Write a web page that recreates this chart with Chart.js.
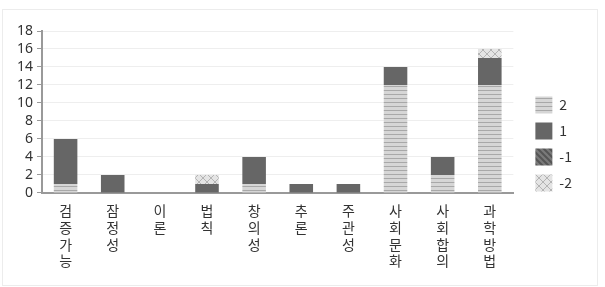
<!DOCTYPE html>
<html>
<head>
<meta charset="utf-8">
<script src="https://cdn.jsdelivr.net/npm/chart.js@4/dist/chart.umd.min.js"></script>
<style>
body { margin: 0; background: #fff; }
#wrap { position: absolute; left: 2px; top: 9px; width: 594px; height: 275px; border: 1px solid #ececec; }
</style>
</head>
<body>
<div id="wrap"><canvas id="barDiagram"></canvas></div>
<script>
const categories = ['검증가능','잠정성','이론','법칙','창의성','추론','주관성','사회문화','사회합의','과학방법'];
const seriesNames = ['2','1','-1','-2'];
const values2 = [1, 0, 0, 0, 1, 0, 0, 12, 2, 12];
const values1 = [5, 2, 0, 1, 3, 1, 1, 2, 2, 3];
const valuesM1 = [0, 0, 0, 0, 0, 0, 0, 0, 0, 0];
const valuesM2 = [0, 0, 0, 1, 0, 0, 0, 0, 0, 1];
const yTicks = [0, 2, 4, 6, 8, 10, 12, 14, 16, 18];

function makePattern(kind) {
   const c = document.createElement('canvas');
   const ctx = c.getContext('2d');
   if (kind === 'h') {
      c.width = 8; c.height = 4;
      ctx.fillStyle = '#d6d6d6'; ctx.fillRect(0, 0, 8, 4);
      ctx.fillStyle = '#a8a8a8'; ctx.fillRect(0, 0, 8, 1);
   } else if (kind === 'd') {
      c.width = 6; c.height = 6;
      ctx.fillStyle = '#7a7a7a'; ctx.fillRect(0, 0, 6, 6);
      ctx.strokeStyle = '#555'; ctx.lineWidth = 2;
      ctx.beginPath();
      ctx.moveTo(-1, -1); ctx.lineTo(7, 7);
      ctx.moveTo(-4, 2); ctx.lineTo(4, 10);
      ctx.moveTo(2, -4); ctx.lineTo(10, 4);
      ctx.stroke();
   } else {
      c.width = 8; c.height = 8;
      ctx.fillStyle = '#e4e4e4'; ctx.fillRect(0, 0, 8, 8);
      ctx.strokeStyle = '#b4b4b4'; ctx.lineWidth = 1;
      ctx.beginPath();
      ctx.moveTo(0, 0); ctx.lineTo(8, 8);
      ctx.moveTo(8, 0); ctx.lineTo(0, 8);
      ctx.stroke();
   }
   return ctx.createPattern(c, 'repeat');
}

const fills = [makePattern('h'), '#666666', makePattern('d'), makePattern('x')];
const allValues = [values2, values1, valuesM1, valuesM2];

const barDiagramDatasets = seriesNames.map((name, i) => ({
   label: name,
   data: allValues[i],
   backgroundColor: fills[i],
   borderWidth: 0,
   categoryPercentage: 1,
   barPercentage: 0.5,
}));

// push the legend a bit away from the plot area
const legendShift = {
   id: 'legendShift',
   afterLayout(chart) {
      chart.legend.left += 13;
      chart.legend.right += 13;
      chart.legend.top -= 7;
      chart.legend.bottom -= 7;
   }
};

const configBar = {
   type: 'bar',
   data: {
      labels: categories.map(s => s.split('')),
      datasets: barDiagramDatasets
   },
   plugins: [legendShift],
   options: {
      responsive: true,
      maintainAspectRatio: false,
      animation: false,
      layout: { padding: { left: 10, right: 28, top: 21, bottom: 14 } },
      plugins: {
         legend: {
            position: 'right',
            labels: {
               boxWidth: 17,
               boxHeight: 17,
               padding: 9,
               color: '#333',
               font: { family: 'Noto Sans CJK KR', size: 14 }
            }
         },
         tooltip: { enabled: false }
      },
      scales: {
         x: {
            stacked: true,
            grid: { display: false },
            border: { color: '#999', width: 2 },
            ticks: {
               color: '#333',
               maxRotation: 0,
               autoSkip: false,
               padding: 2,
               font: { family: 'Noto Sans CJK KR', size: 14, lineHeight: 1.18 }
            }
         },
         y: {
            stacked: true,
            min: 0,
            max: 18,
            afterBuildTicks: axis => { axis.ticks = yTicks.map(v => ({ value: v })); },
            grid: { color: '#eeeeee', tickColor: '#999', tickLength: 5 },
            border: { color: '#999', width: 2 },
            ticks: {
               color: '#333',
               padding: 4,
               autoSkip: false,
               font: { family: 'Noto Sans', size: 14 }
            }
         }
      }
   }
};

const barDiagram = new Chart(document.getElementById('barDiagram'), configBar);
</script>
</body>
</html>
